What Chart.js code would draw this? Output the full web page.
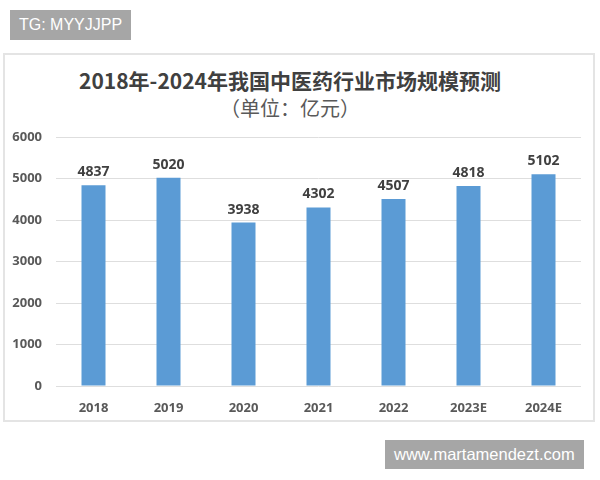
<!DOCTYPE html>
<html lang="zh">
<head>
  <meta charset="UTF-8">
  <title>中医药行业市场规模预测</title>
  <script src="https://cdn.jsdelivr.net/npm/chart.js"></script>
  <style>
    body {
      margin: 0;
      background: #fff;
      width: 600px;
      height: 480px;
      position: relative;
      overflow: hidden;
      font-family: 'Liberation Sans', sans-serif;
    }
    .tag {
      position: absolute;
      background: #a6a6a6;
      color: #fff;
      font-size: 16px;
      line-height: 30px;
      padding: 0 9px;
    }
    #tagTop { left: 10px; top: 10px; height: 30px; }
    #tagBottom { left: 385px; top: 440px; height: 29px; line-height: 29px; font-size: 16.5px; }
    #box {
      position: absolute;
      left: 3px;
      top: 53px;
      width: 592px;
      height: 369px;
      box-sizing: border-box;
      border: 2px solid #e4e4e4;
    }
    .title {
      position: absolute;
      left: 0;
      width: 570px;
      text-align: center;
      color: #404040;
      font-family: 'Noto Sans CJK SC', sans-serif;
    }
    #t1 { top: 10px; font-size: 21px; font-weight: bold; }
    #t2 { top: 38px; font-size: 20px; color: #595959; }
    #wrap {
      position: absolute;
      left: 0;
      top: 0;
      width: 588px;
      height: 365px;
    }
  </style>
</head>
<body>
  <div class="tag" id="tagTop">TG: MYYJJPP</div>
  <div id="box">
    <div class="title" id="t1">2018年-2024年我国中医药行业市场规模预测</div>
    <div class="title" id="t2">（单位：亿元）</div>
    <div id="wrap"><canvas id="c"></canvas></div>
  </div>
  <div class="tag" id="tagBottom">www.martamendezt.com</div>

  <script>
    const years = ["2018", "2019", "2020", "2021", "2022", "2023E", "2024E"];
    const marketSize = [4837, 5020, 3938, 4302, 4507, 4818, 5102];
    const yTicks = [0, 1000, 2000, 3000, 4000, 5000, 6000];

    const labelFont = "bold 14px 'Open Sans', sans-serif";

    // write the value above each bar
    const valueLabels = {
      id: "valueLabels",
      afterDatasetsDraw(chart) {
        const ctx = chart.ctx;
        const meta = chart.getDatasetMeta(0);
        ctx.save();
        ctx.font = labelFont;
        ctx.fillStyle = "#404040";
        ctx.textAlign = "center";
        ctx.textBaseline = "bottom";
        meta.data.forEach((bar, i) => {
          ctx.fillText(marketSize[i], bar.x, bar.y - 6);
        });
        ctx.restore();
      }
    };

    new Chart(document.getElementById("c"), {
      type: "bar",
      data: {
        labels: years,
        datasets: [{
          data: marketSize,
          backgroundColor: "#5b9bd5",
          barPercentage: 0.64,
          categoryPercentage: 0.5
        }]
      },
      options: {
        responsive: true,
        maintainAspectRatio: false,
        animation: false,
        layout: { padding: { top: 82, right: 12, left: 0, bottom: 0 } },
        plugins: {
          legend: { display: false },
          tooltip: { enabled: false }
        },
        scales: {
          x: {
            grid: { display: false },
            border: { display: false },
            ticks: {
              color: "#595959",
              font: { family: "'Open Sans', sans-serif", size: 13, weight: "bold" },
              padding: 6
            },
            afterFit(scale) { scale.height = 34; }
          },
          y: {
            min: 0,
            max: 6000,
            afterBuildTicks(scale) { scale.ticks = yTicks.map(v => ({ value: v })); },
            grid: { color: "#dedede", drawTicks: false },
            border: { display: false },
            ticks: {
              color: "#595959",
              font: { family: "'Open Sans', sans-serif", size: 13, weight: "bold" },
              padding: 14,
              callback: v => String(v)
            },
            afterFit(scale) { scale.width = 51; }
          }
        }
      },
      plugins: [valueLabels]
    });
  </script>
</body>
</html>
